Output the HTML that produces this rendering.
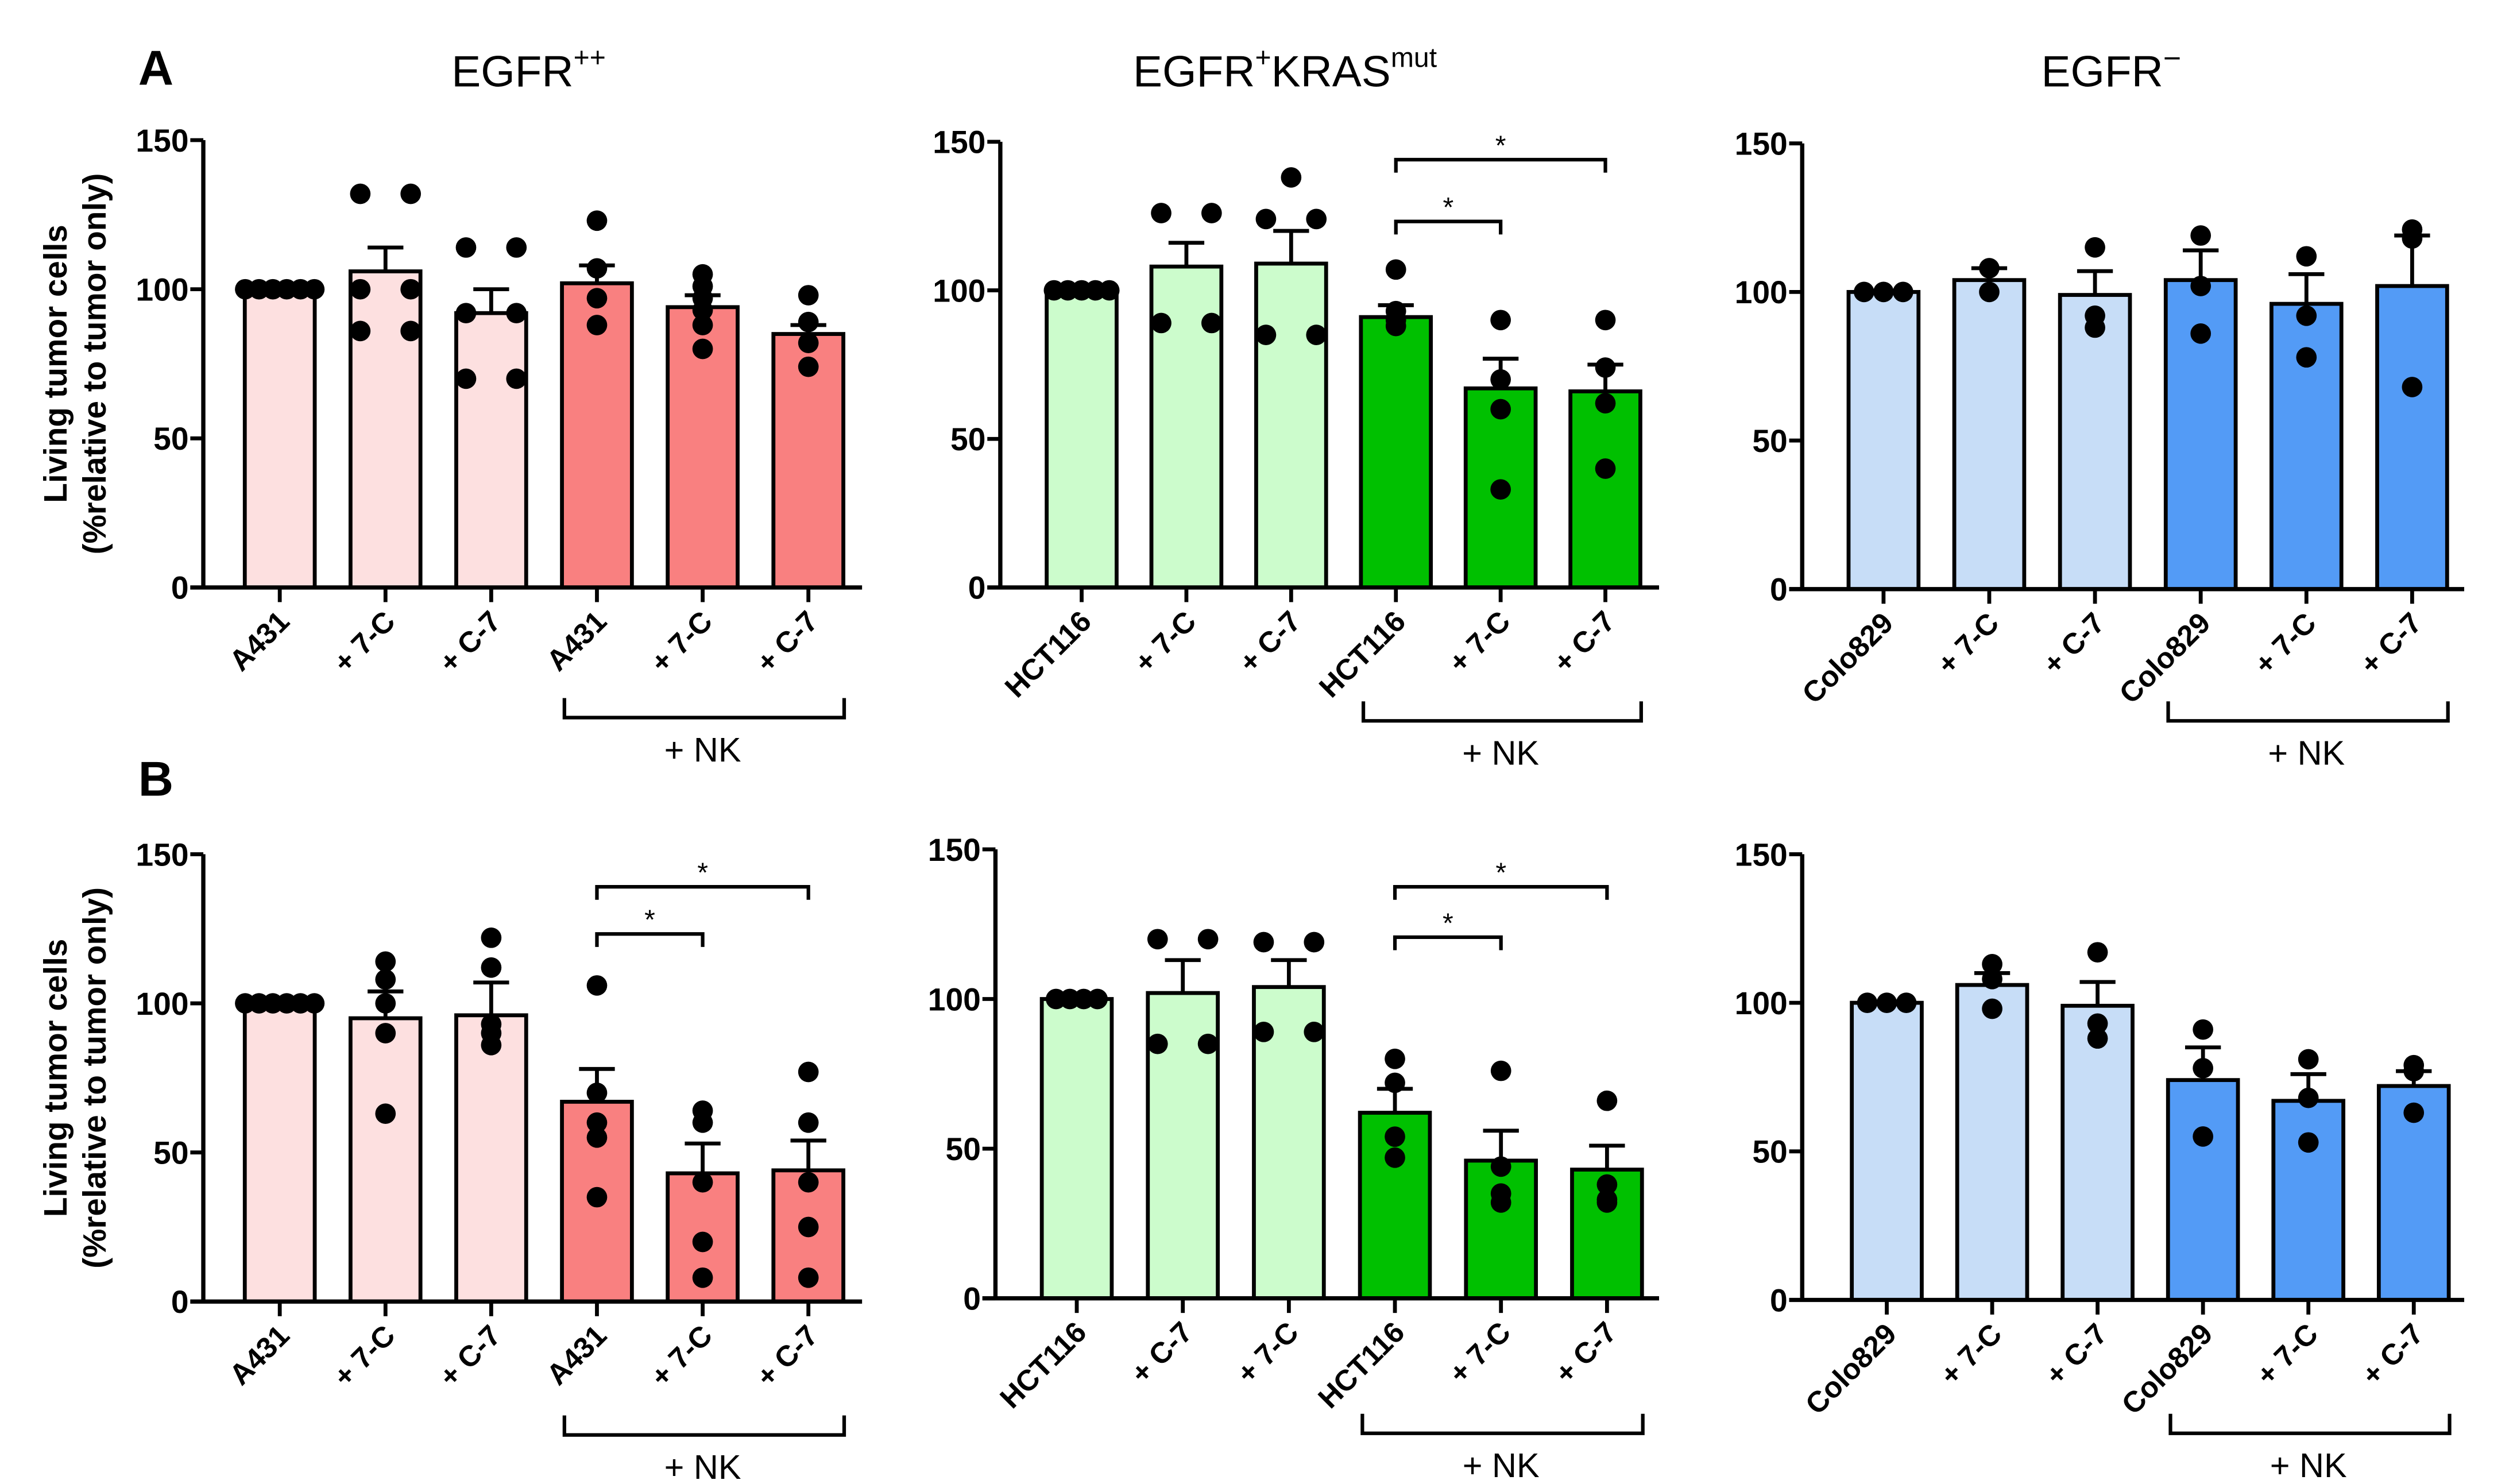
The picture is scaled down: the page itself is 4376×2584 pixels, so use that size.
<!DOCTYPE html>
<html><head><meta charset="utf-8"><style>
html,body{margin:0;padding:0;background:#fff;}
svg{display:block;font-family:"Liberation Sans",Arial,sans-serif;}
</style></head><body>
<svg id="fig" width="4376" height="2584" viewBox="0 0 1545 912" xmlns="http://www.w3.org/2000/svg">
<rect width="1545" height="912" fill="#fff"/>
<text x="85" y="52" font-size="30" font-weight="bold">A</text>
<text x="85" y="489" font-size="30" font-weight="bold">B</text>
<text x="325" y="53" font-size="27" text-anchor="middle">EGFR<tspan font-size="17" dy="-12">++</tspan></text>
<text x="790" y="53" font-size="27" text-anchor="middle">EGFR<tspan font-size="17" dy="-12">+</tspan><tspan dy="12">KRAS</tspan><tspan font-size="17" dy="-12">mut</tspan></text>
<text x="1298" y="53" font-size="27" text-anchor="middle">EGFR<tspan font-size="19" dy="-11">−</tspan></text>
<g id="plots"></g>
</svg>
<script>
// ---- data ----
const catsA1 = ["A431","+ 7-C","+ C-7","A431","+ 7-C","+ C-7"];
const catsA2 = ["HCT116","+ 7-C","+ C-7","HCT116","+ 7-C","+ C-7"];
const catsA3 = ["Colo829","+ 7-C","+ C-7","Colo829","+ 7-C","+ C-7"];
const catsB2 = ["HCT116","+ C-7","+ 7-C","HCT116","+ 7-C","+ C-7"];
const yTicks = [0,50,100,150];

const meansA1 = [100,106,92,102,94,85];
const errA1 = [0,114,100,108,98,88];
const ptsA1 = [[100,100,100,100,100,100],[132,132,100,100,86,86],[114,114,92,92,70,70],[123,107,97,88],[105,101,97,93,88,80],[98,89,82,74]];

const meansA2 = [100,108,109,91,67,66];
const errA2 = [0,116,120,95,77,75];
const ptsA2 = [[100,100,100,100,100],[126,126,89,89],[138,124,124,85,85],[107,93,90,88],[90,70,60,33],[90,74,62,40]];

const meansA3 = [100,104,99,104,96,102];
const errA3 = [0,108,107,114,106,119];
const ptsA3 = [[100,100,100],[108,100],[115,92,88],[119,102,86],[112,92,78],[121,118,68]];

const meansB1 = [100,95,96,67,43,44];
const errB1 = [0,104,107,78,53,54];
const ptsB1 = [[100,100,100,100,100,100],[114,108,100,90,63],[122,112,93,90,86],[106,70,60,55,35],[64,60,40,20,8],[77,60,40,25,8]];

const meansB2 = [100,102,104,62,46,43];
const errB2 = [0,113,113,70,56,51];
const ptsB2 = [[100,100,100,100],[120,120,85,85],[119,119,89,89],[80,72,54,47],[76,44,35,32],[66,38,33,32]];

const meansB3 = [100,106,99,74,67,72];
const errB3 = [0,110,107,85,76,77];
const ptsB3 = [[100,100,100],[113,108,98],[117,93,88],[91,78,55],[81,68,53],[79,77,63]];

const sigA2 = [[3,4,"*"],[3,5,"*"]];
const sigB1 = [[3,4,"*"],[3,5,"*"]];
const sigB2 = [[3,4,"*"],[3,5,"*"]];

// ---- drawing ----
const NS="http://www.w3.org/2000/svg";
const root=document.getElementById('plots');
function mk(tag,attrs,parent){const e=document.createElementNS(NS,tag);for(const k in attrs)e.setAttribute(k,attrs[k]);(parent||root).appendChild(e);return e;}

function panel(o){
  const g=mk('g',{});
  
  
  const y=v=>o.y0-(v/150)*(o.y0-o.y150);
  const step=(o.x6-o.x1)/5;
  const x=i=>o.x1+i*step;
  const bw=43;
  o.means.forEach((m,i)=>{
    const r=mk('rect',{x:x(i)-bw/2,y:y(m),width:bw,height:o.y0-y(m),fill:i<3?o.light:o.dark,stroke:'#000','stroke-width':2.4},g);
    
    
    if(o.err[i]>m){
      const l=mk('path',{d:`M${x(i)},${y(m)}V${y(o.err[i])}M${x(i)-11},${y(o.err[i])}H${x(i)+11}`,stroke:'#000','stroke-width':2.4,fill:'none'},g);
      
      
    }
  });
  o.pts.forEach((arr,i)=>{
    const groups=[];
    arr.forEach(v=>{let gr=groups.find(q=>Math.abs(q.v-v)<1);if(gr)gr.vals.push(v);else groups.push({v:v,vals:[v]});});
    groups.forEach(gr=>{
      const n=gr.vals.length, sp=n>3?8.5:(n==2?31:12);
      gr.vals.forEach((v,k)=>{
        const c=mk('circle',{cx:x(i)+(k-(n-1)/2)*sp,cy:y(v),r:6.3,fill:'#000'},g);
        
        
      });
    });
  });
  const ax=mk('path',{d:`M${o.ax},${o.y150}V${o.y0}M${o.ax-8},${o.y0}H${o.xend}`,stroke:'#000','stroke-width':2.6,fill:'none'},g);
  
  
  yTicks.forEach(t=>{
    mk('path',{d:`M${o.ax-8},${y(t)}H${o.ax}`,stroke:'#000','stroke-width':2.4},g);
    const tx=mk('text',{x:o.ax-9,y:y(t)+7,'font-size':19.5,'font-weight':'bold','text-anchor':'end'},g);
    tx.textContent=t;
    
    
  });
  o.cats.forEach((c,i)=>{
    mk('path',{d:`M${x(i)},${o.y0}V${o.y0+9}`,stroke:'#000','stroke-width':2.4},g);
    const tx=mk('text',{x:x(i)+7,y:o.y0+22,'font-size':18,'font-weight':'bold','text-anchor':'end',transform:`rotate(-45 ${x(i)+7} ${o.y0+22})`},g);
    tx.textContent=c;
    
    
  });
  const bx1=x(3)-20, bx2=x(5)+22;
  const br=mk('path',{d:`M${bx1},${o.nky-12}V${o.nky}H${bx2}V${o.nky-12}`,stroke:'#000','stroke-width':2.2,fill:'none'},g);
  
  
  const nk=mk('text',{x:x(4),y:o.nky+27,'font-size':21,'text-anchor':'middle'},g);
  nk.textContent='+ NK';
  
  
  (o.sig||[]).forEach((s,k)=>{
    const ly=k==0?o.sig1y:o.sig2y;
    const p=mk('path',{d:`M${x(s[0])},${ly+8}V${ly}H${x(s[1])}V${ly+8}`,stroke:'#000','stroke-width':2.2,fill:'none'},g);
    
    
    const st=mk('text',{x:(x(s[0])+x(s[1]))/2,y:ly-3,'font-size':17,'text-anchor':'middle'},g);
    st.textContent=s[2];
    
    
  });
  if(o.ytitle){
    const cy=(o.y0+o.y150)/2;
    const t=mk('text',{transform:`translate(41 ${cy}) rotate(-90)`,'font-size':20,'font-weight':'bold','text-anchor':'middle'},g);
    t.textContent='Living tumor cells';
    
    
    const t2=mk('text',{transform:`translate(65 ${cy}) rotate(-90)`,'font-size':20,'font-weight':'bold','text-anchor':'middle'},g);
    t2.textContent='(%relative to tumor only)';
    
    
  }
}
const red=['#fde0e0','#f98080'], green=['#ccfccc','#00c000'], blue=['#c7ddf7','#539bf6'];
panel({name:'panel-a-egfr-high',ax:125,x1:172,x6:497,xend:530,y150:86,y0:361,light:red[0],dark:red[1],cats:catsA1,means:meansA1,err:errA1,pts:ptsA1,nky:441,ytitle:true});
panel({name:'panel-a-egfr-kras',ax:615,x1:665,x6:987,xend:1020,y150:87,y0:361,light:green[0],dark:green[1],cats:catsA2,means:meansA2,err:errA2,pts:ptsA2,nky:443,sig:sigA2,sig1y:136,sig2y:98});
panel({name:'panel-a-egfr-neg',ax:1108,x1:1158,x6:1483,xend:1515,y150:88,y0:362,light:blue[0],dark:blue[1],cats:catsA3,means:meansA3,err:errA3,pts:ptsA3,nky:443});
panel({name:'panel-b-egfr-high',ax:125,x1:172,x6:497,xend:530,y150:525,y0:800,light:red[0],dark:red[1],cats:catsA1,means:meansB1,err:errB1,pts:ptsB1,nky:882,sig:sigB1,sig1y:574,sig2y:545,ytitle:true});
panel({name:'panel-b-egfr-kras',ax:612,x1:662,x6:988,xend:1020,y150:522,y0:798,light:green[0],dark:green[1],cats:catsB2,means:meansB2,err:errB2,pts:ptsB2,nky:881,sig:sigB2,sig1y:576,sig2y:545});
panel({name:'panel-b-egfr-neg',ax:1108,x1:1160,x6:1484,xend:1515,y150:525,y0:799,light:blue[0],dark:blue[1],cats:catsA3,means:meansB3,err:errB3,pts:ptsB3,nky:881});
</script>
</body></html>
